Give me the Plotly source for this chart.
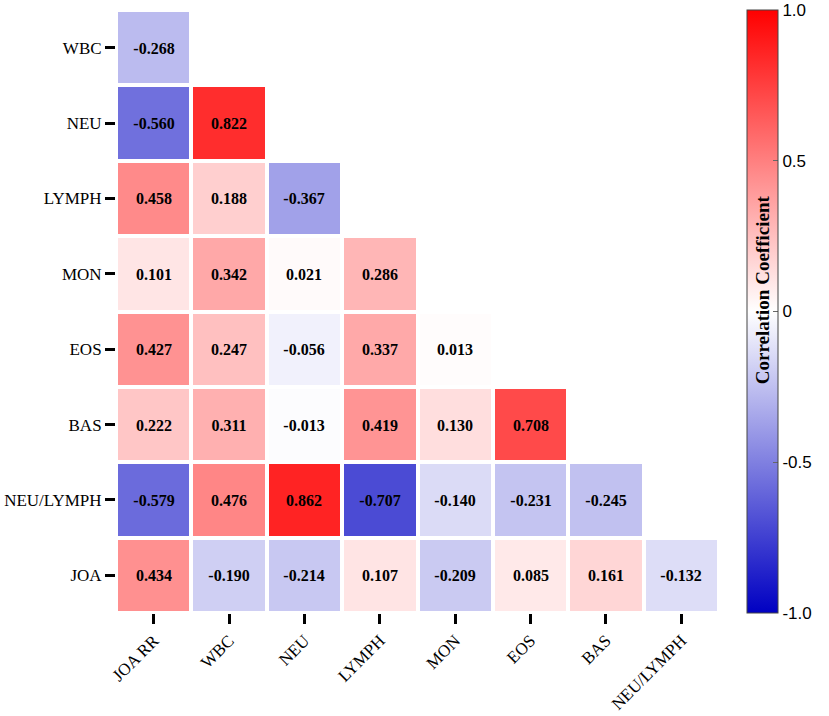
import plotly.graph_objects as go

row_labels = ["WBC", "NEU", "LYMPH", "MON", "EOS", "BAS", "NEU/LYMPH", "JOA"]
col_labels = ["JOA RR", "WBC", "NEU", "LYMPH", "MON", "EOS", "BAS", "NEU/LYMPH"]

r_wbc = [-0.268]
r_neu = [-0.560, 0.822]
r_lymph = [0.458, 0.188, -0.367]
r_mon = [0.101, 0.342, 0.021, 0.286]
r_eos = [0.427, 0.247, -0.056, 0.337, 0.013]
r_bas = [0.222, 0.311, -0.013, 0.419, 0.130, 0.708]
r_nlr = [-0.579, 0.476, 0.862, -0.707, -0.140, -0.231, -0.245]
r_joa = [0.434, -0.190, -0.214, 0.107, -0.209, 0.085, 0.161, -0.132]

rows = [r_wbc, r_neu, r_lymph, r_mon, r_eos, r_bas, r_nlr, r_joa]
n = len(col_labels)
z = [r + [None] * (n - len(r)) for r in rows]
text = [["" if v is None else f"{v:.3f}" for v in r] for r in z]

colorscale = [[0.0, "rgb(0,0,194)"], [0.5, "rgb(255,255,255)"], [1.0, "rgb(255,0,0)"]]

fig = go.Figure(go.Heatmap(
    z=z, x=col_labels, y=row_labels, text=text,
    texttemplate="<b>%{text}</b>",
    textfont=dict(family="Liberation Serif", size=16, color="black"),
    colorscale=colorscale, zmin=-1, zmax=1,
    xgap=4, ygap=4, hoverongaps=False, hoverinfo="skip",
    colorbar=dict(
        x=1.046, xanchor="left", xref="paper",
        y=0.5, yanchor="middle", len=1.0, lenmode="fraction", ypad=0, xpad=0,
        thickness=31, outlinewidth=1, outlinecolor="#444",
        tickvals=[-1, -0.5, 0, 0.5, 1],
        ticktext=["-1.0", "-0.5", "0", "0.5", "1.0"],
        ticks="inside", ticklen=5, tickcolor="#666",
        tickfont=dict(family="Liberation Sans", size=17, color="black"),
    ),
))

fig.add_annotation(
    text="<b>Correlation Coefficient</b>", textangle=-90,
    x=1.072, y=0.536, xref="paper", yref="paper", showarrow=False,
    xanchor="center", yanchor="middle",
    font=dict(family="Liberation Serif", size=19, color="black"),
)

fig.update_xaxes(
    type="category", categoryorder="array", categoryarray=col_labels,
    ticks="outside", ticklen=10, tickwidth=3, tickcolor="black",
    tickangle=-45, showgrid=False, zeroline=False, showline=False,
    automargin=False,
    tickfont=dict(family="Liberation Serif", size=17, color="black"),
)
fig.update_yaxes(
    type="category", categoryorder="array", categoryarray=row_labels,
    autorange="reversed",
    ticks="outside", ticklen=10, tickwidth=3, tickcolor="black",
    showgrid=False, zeroline=False, showline=False,
    automargin=False,
    tickfont=dict(family="Liberation Serif", size=17, color="black"),
)

fig.update_layout(
    width=829, height=716,
    margin=dict(l=116, r=110, t=10, b=103, autoexpand=False),
    plot_bgcolor="white", paper_bgcolor="white",
    hovermode=False,
)

fig.write_html("out.html", config={"displayModeBar": False},
               post_script="document.body.style.margin='0';")
